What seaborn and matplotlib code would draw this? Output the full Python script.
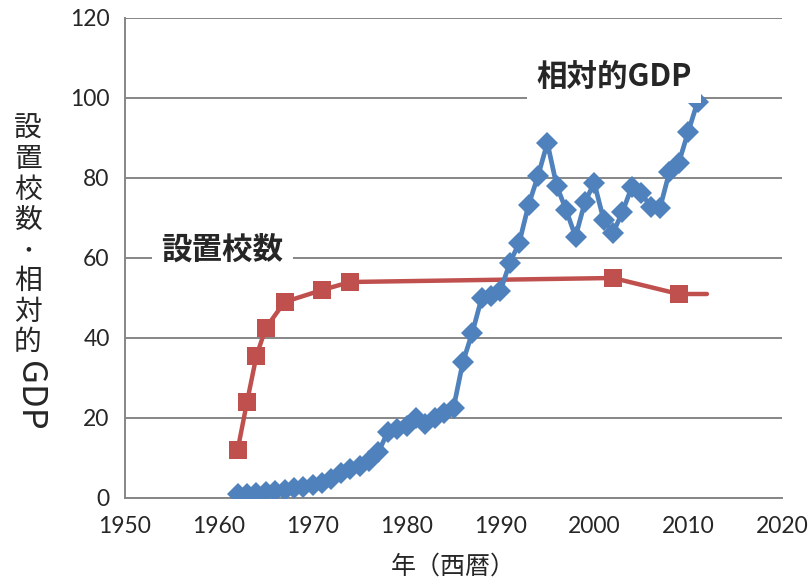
import pandas as pd
import numpy as np
import matplotlib
matplotlib.use('Agg')
import matplotlib.pyplot as plt
import seaborn as sns

# 相対的GDP (blue diamonds)
gdp_years = list(range(1962, 2012))
gdp_values = [1, 1, 1.2, 1.5, 1.8, 2, 2.5, 2.8, 3.3, 3.8,
              4.8, 6.3, 7.3, 8, 9.3, 11.5, 16.5, 17.3, 18, 20,
              18.5, 20, 21.3, 22.5, 34, 41.3, 50, 50.5, 51.8, 58.8,
              63.8, 73.3, 80.5, 88.8, 78, 72, 65.3, 74, 78.8, 69.5,
              66.3, 71.5, 77.8, 76.3, 72.8, 72.5, 81.5, 83.8, 91.5, 99]

# 設置校数 (red squares); last point has no marker
school_years = [1962, 1963, 1964, 1965, 1967, 1971, 1974, 2002, 2009, 2012]
school_values = [12, 24, 35.5, 42.5, 49, 52, 54, 55, 51, 51]

x_ticks = [1950, 1960, 1970, 1980, 1990, 2000, 2010, 2020]
y_ticks = [0, 20, 40, 60, 80, 100, 120]

BLUE = '#4F81BD'
RED = '#C0504D'
GRID = '#868686'
JP = ['Noto Sans CJK JP', 'DejaVu Sans']

sns.set_style('white')
plt.rcParams['font.family'] = JP

df_gdp = pd.DataFrame({'year': gdp_years, 'value': gdp_values})
df_school = pd.DataFrame({'year': school_years, 'value': school_values})

fig = plt.figure(figsize=(8.11, 5.86), dpi=100)
ax = fig.add_axes([125 / 811, 88 / 586, 657 / 811, 480 / 586])

sns.lineplot(data=df_school, x='year', y='value', ax=ax, color=RED,
             linewidth=3.2, marker='s', markersize=13.5,
             markeredgewidth=0, markevery=list(range(len(school_years) - 1)),
             zorder=3)
sns.lineplot(data=df_gdp, x='year', y='value', ax=ax, color=BLUE,
             linewidth=3.4, marker='D', markersize=11.5,
             markeredgewidth=0, zorder=4)

ax.set_xlim(1950, 2020)
ax.set_ylim(0, 120)
ax.set_xticks(x_ticks)
ax.set_yticks(y_ticks)
ax.yaxis.grid(True, color=GRID, linewidth=1.4)
ax.xaxis.grid(False)
ax.set_axisbelow(True)

for side in ['top', 'right']:
    ax.spines[side].set_visible(False)
for side in ['left', 'bottom']:
    ax.spines[side].set_color(GRID)
    ax.spines[side].set_linewidth(1.4)

ax.tick_params(axis='both', direction='out', length=6, width=1.4,
               color=GRID, labelsize=16.5, pad=5)
ax.tick_params(axis='x', pad=7)
for lab in ax.get_xticklabels() + ax.get_yticklabels():
    lab.set_family(['Lato', 'DejaVu Sans'])

ax.set_xlabel('年（西暦）', fontsize=18, labelpad=12)
ax.set_ylabel('')

# vertical y label: CJK upright, Latin rotated
fig.text(28 / 811, 1 - 114 / 586, '設\n置\n校\n数\n･\n相\n対\n的',
         ha='center', va='top', fontsize=20, linespacing=1.02)
fig.text(29 / 811, 1 - 361 / 586, 'GDP', ha='center', va='top',
         rotation=-90, fontsize=25)

ax.text(2002.1, 105, '相対的GDP', ha='center', va='center', fontsize=22,
        fontweight='bold', bbox=dict(facecolor='white', edgecolor='none',
                                     boxstyle='square,pad=0.3'), zorder=6)
ax.text(1960.4, 62, '設置校数', ha='center', va='center', fontsize=22,
        fontweight='bold', bbox=dict(facecolor='white', edgecolor='none',
                                     boxstyle='square,pad=0.3'), zorder=6)

fig.savefig('out.png', dpi=100)
